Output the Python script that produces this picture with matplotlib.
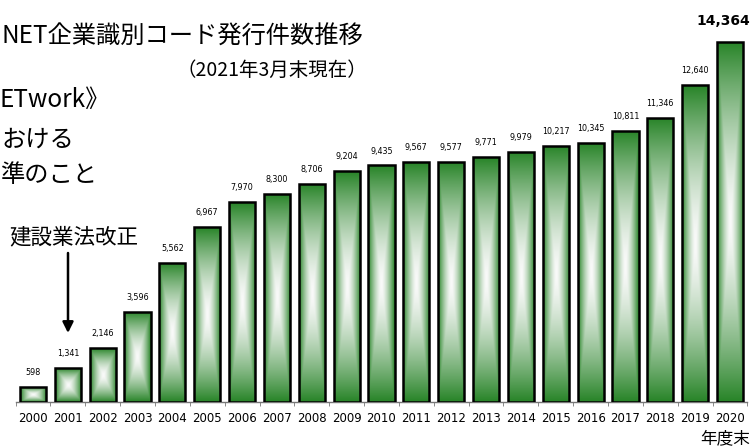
import matplotlib
matplotlib.use('Agg')
import matplotlib.pyplot as plt
import numpy as np

plt.rcParams['font.family'] = ['Noto Sans CJK JP', 'DejaVu Sans']

# CI-NET company code issues per fiscal year end
years = [str(y) for y in range(2000, 2021)]
counts = [598, 1341, 2146, 3596, 5562, 6967, 7970, 8300, 8706, 9204, 9435,
          9567, 9577, 9771, 9979, 10217, 10345, 10811, 11346, 12640, 14364]

title = 'NET企業識別コード発行件数推移'
subtitle = '（2021年3月末現在）'
side_lines = ['ETwork》', 'おける', '準のこと']
note = '建設業法改正'
unit = '年度末'

W, H = 754, 447
green = np.array([40, 132, 40]) / 255.0
white = np.array([250, 250, 250]) / 255.0


def fx(x):
    return x / W


def fy(y):
    return 1 - y / H


fig = plt.figure(figsize=(W / 100, H / 100), dpi=100)
ax = fig.add_axes([fx(15.6), fy(402), fx(731.8), 402 / H])
ymax = 16035
bar_w = 0.75

# box gradient: white centre fading to green at the edges
ny, nx = 200, 60
u = np.linspace(-1, 1, nx)
v = np.linspace(-1, 1, ny)
uu, vv = np.meshgrid(u, v)
t = np.maximum(np.abs(uu), np.abs(vv))
f = np.clip(t, 0, 1) ** 1.5
grad = white[None, None, :] + (green - white)[None, None, :] * f[:, :, None]

x = np.arange(len(years))
bars = ax.bar(x, counts, width=bar_w, facecolor='none', edgecolor='black',
              linewidth=1.8, zorder=3)
for i, (b, c) in enumerate(zip(bars, counts)):
    im = ax.imshow(grad, extent=(i - bar_w / 2, i + bar_w / 2, 0, c),
                   aspect='auto', origin='lower', zorder=2, interpolation='bilinear')
    im.set_clip_path(b)
    if i < len(counts) - 1:
        ax.annotate(f'{c:,}', (i, c), xytext=(0, 8.6), textcoords='offset points',
                    ha='center', va='baseline', fontsize=5.8, family='DejaVu Sans')
    else:
        ax.annotate(f'{c:,}', (i, c), xytext=(-5, 12), textcoords='offset points',
                    ha='center', va='baseline', fontsize=10, fontweight='bold',
                    family='DejaVu Sans', annotation_clip=False)

ax.set_xlim(-0.5, len(years) - 0.5)
ax.set_ylim(0, ymax)
for s in ['top', 'right', 'left']:
    ax.spines[s].set_visible(False)
ax.spines['bottom'].set_color('#777777')
ax.spines['bottom'].set_linewidth(1.0)
ax.set_yticks([])
ax.set_xticks(x)
ax.set_xticklabels(years, fontsize=8.5, family='DejaVu Sans')
ax.tick_params(axis='x', which='major', length=0, pad=7.5)
ax.set_xticks(np.arange(-0.5, len(years), 1), minor=True)
ax.tick_params(axis='x', which='minor', length=3, color='#777777', direction='out')

fig.text(fx(1), fy(37), title, fontsize=17.5, ha='left', va='center')
fig.text(fx(176), fy(70), subtitle, fontsize=14, ha='left', va='center')
fig.text(fx(0), fy(100), side_lines[0], fontsize=17.5, ha='left', va='center')
fig.text(fx(1), fy(140), side_lines[1], fontsize=17.5, ha='left', va='center')
fig.text(fx(0), fy(175), side_lines[2], fontsize=17.5, ha='left', va='center')
fig.text(fx(9), fy(237), note, fontsize=15.5, ha='left', va='center')
fig.text(fx(700), fy(439), unit, fontsize=12, ha='left', va='center')

ax.annotate('', xy=(68, H - 333), xycoords='figure pixels',
            xytext=(68, H - 253), textcoords='figure pixels',
            arrowprops=dict(arrowstyle='-|>', lw=1.8, color='black',
                            mutation_scale=16, shrinkA=0, shrinkB=0))

fig.savefig('out.png', dpi=100)
